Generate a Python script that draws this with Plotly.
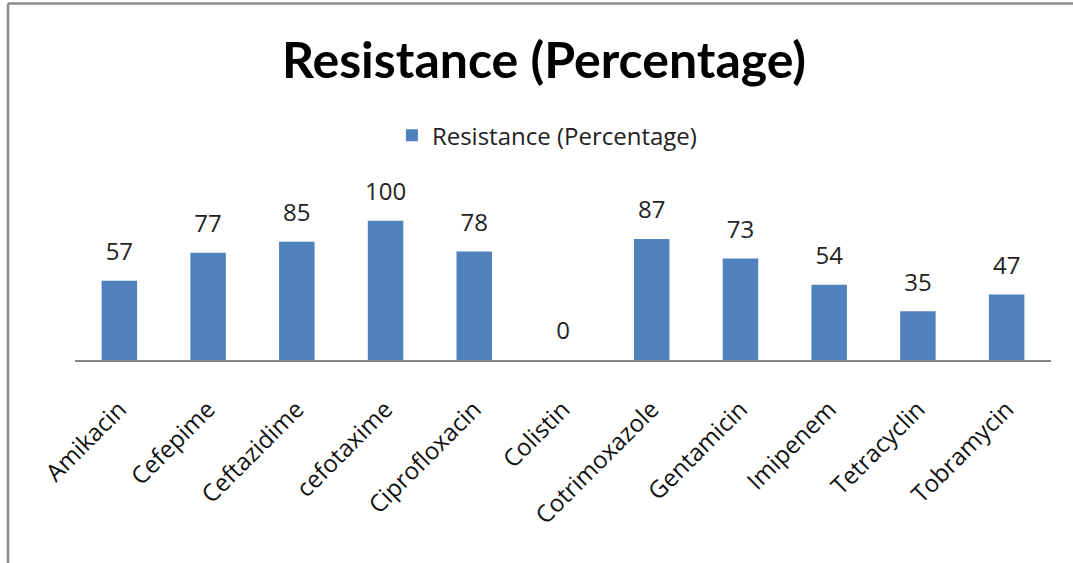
import plotly.graph_objects as go

antibioticos = ["Amikacin", "Cefepime", "Ceftazidime", "cefotaxime", "Ciprofloxacin",
                "Colistin", "Cotrimoxazole", "Gentamicin", "Imipenem", "Tetracyclin",
                "Tobramycin"]
resistencia = [57, 77, 85, 100, 78, 0, 87, 73, 54, 35, 47]

serie = "Resistance (Percentage)"
fuente = "'Open Sans', 'Noto Sans', sans-serif"
fuente_titulo = "Lato, 'Open Sans', sans-serif"

fig = go.Figure()

fig.add_trace(go.Bar(
    x=antibioticos,
    y=resistencia,
    name=serie,
    marker=dict(color="#4F81BD", line=dict(width=0)),
))

# etiquetas de valor encima de cada barra
fig.add_trace(go.Scatter(
    x=antibioticos,
    y=resistencia,
    mode="markers+text",
    text=[str(v) for v in resistencia],
    textposition="top center",
    textfont=dict(size=24, color="#222222", family=fuente),
    marker=dict(size=22, color="rgba(0,0,0,0)"),
    cliponaxis=False,
    showlegend=False,
    hoverinfo="skip",
))

fig.update_layout(
    width=1073,
    height=563,
    margin=dict(l=75, r=22, t=193, b=203, autoexpand=False),
    paper_bgcolor="white",
    plot_bgcolor="white",
    bargap=0.6,
    font=dict(family=fuente, color="#111111"),
    title=dict(
        text="<b>Resistance (Percentage)</b>",
        x=0.507, xanchor="center",
        y=1 - 60 / 563, yanchor="middle",
        font=dict(size=50, color="black", family=fuente_titulo),
    ),
    legend=dict(
        orientation="h",
        x=0.484, xanchor="center",
        y=1.343, yanchor="middle",
        font=dict(size=24, color="#222222", family=fuente),
    ),
    showlegend=True,
)

fig.update_xaxes(
    range=[-0.5, len(antibioticos) - 0.5],
    tickangle=-45,
    tickfont=dict(size=24, color="#111111", family=fuente),
    showline=True, linecolor="#868686", linewidth=1.5,
    ticks="", showgrid=False,
    automargin=False,
    ticklabelstandoff=24,
)
fig.update_yaxes(
    range=[0, 120],
    visible=False,
    showgrid=False,
    automargin=False,
)

# borde del área del gráfico (arriba e izquierda)
fig.add_shape(type="line", xref="paper", yref="paper",
              x0=(8 - 75) / 976, x1=1.1, y0=(360 - 4) / 166.8, y1=(360 - 4) / 166.8,
              line=dict(color="#8c8c8c", width=2.5))
fig.add_shape(type="line", xref="paper", yref="paper",
              x0=(8 - 75) / 976, x1=(8 - 75) / 976, y0=(360 - 4) / 166.8, y1=-1.3,
              line=dict(color="#8c8c8c", width=2.5))

fig.write_html("out.html", config={"displayModeBar": False},
               post_script="document.body.style.margin='0';")
